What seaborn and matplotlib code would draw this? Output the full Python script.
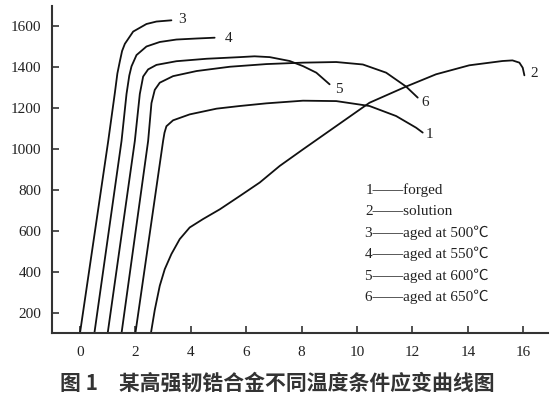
"""
    Stress-strain curves of a zirconium alloy at different conditions.
"""

import seaborn as sns
import pandas as pd
import matplotlib.pyplot as plt

# curve id -> (strain %, stress MPa)
curve_ids = ["1", "2", "3", "4", "5", "6"]
legend_names = ["forged", "solution", "aged at 500℃", "aged at 550℃",
                "aged at 600℃", "aged at 650℃"]

strain_1 = [2.0, 3.0, 3.05, 3.12, 3.36, 3.96, 4.93, 5.77, 6.73, 8.05, 9.25, 10.45, 11.41, 12.13, 12.37]
stress_1 = [100, 1040, 1080, 1112, 1141, 1170, 1198, 1211, 1224, 1237, 1235, 1211, 1162, 1105, 1081]

strain_2 = [2.56, 2.70, 2.88, 3.06, 3.30, 3.60, 3.96, 4.44, 5.05, 5.77, 6.49, 7.21, 8.05, 9.25,
            10.45, 11.77, 12.85, 14.05, 15.25, 15.61, 15.86, 15.98, 16.04]
stress_2 = [100, 214, 332, 413, 487, 560, 617, 658, 706, 771, 837, 918, 999, 1113,
            1227, 1306, 1366, 1410, 1431, 1434, 1423, 1398, 1361]

strain_3 = [0.0, 1.02, 1.26, 1.35, 1.44, 1.52, 1.62, 1.92, 2.40, 2.76, 3.30]
stress_3 = [100, 1040, 1276, 1370, 1430, 1480, 1515, 1575, 1612, 1624, 1630]

strain_4 = [0.52, 1.50, 1.68, 1.78, 1.86, 2.04, 2.40, 2.88, 3.48, 4.20, 4.86]
stress_4 = [100, 1040, 1270, 1360, 1405, 1460, 1502, 1524, 1536, 1541, 1545]

strain_5 = [1.0, 1.98, 2.16, 2.28, 2.46, 2.76, 3.48, 4.57, 5.77, 6.3, 6.85, 7.57, 8.05, 8.53, 9.01]
stress_5 = [100, 1040, 1270, 1355, 1390, 1412, 1430, 1442, 1450, 1454, 1450, 1431, 1406, 1374, 1317]

strain_6 = [1.5, 2.46, 2.58, 2.70, 2.88, 3.36, 4.21, 5.41, 6.73, 8.05, 9.25, 10.21, 11.05, 11.77, 12.19]
stress_6 = [100, 1040, 1225, 1290, 1325, 1357, 1382, 1403, 1416, 1423, 1426, 1414, 1374, 1306, 1252]

x_ticks = [0, 2, 4, 6, 8, 10, 12, 14, 16]
y_ticks = [200, 400, 600, 800, 1000, 1200, 1400, 1600]
caption = "图 1\u3000某高强韧锆合金不同温度条件应变曲线图"

strains = [strain_1, strain_2, strain_3, strain_4, strain_5, strain_6]
stresses = [stress_1, stress_2, stress_3, stress_4, stress_5, stress_6]

frames = []
for cid, xs, ys in zip(curve_ids, strains, stresses):
    frames.append(pd.DataFrame({"curve": cid, "strain": xs, "stress": ys}))
data = pd.concat(frames, ignore_index=True)

sns.set_style("ticks")
plt.rcParams["font.family"] = ["Liberation Serif", "Noto Sans CJK SC", "DejaVu Sans"]

fig = plt.figure(figsize=(5.56, 4.0), dpi=100)
ax = fig.add_axes([0.094, 0.167, 0.892, 0.818])

sns.lineplot(data=data, x="strain", y="stress", units="curve", estimator=None,
             sort=False, color="#111111", linewidth=1.3, ax=ax)

# number next to the end of each curve
for cid, xs, ys in zip(curve_ids, strains, stresses):
    dx, dy = {"1": (0.12, -10), "2": (0.2, 10), "3": (0.25, 5), "4": (0.35, -5),
              "5": (0.2, -25), "6": (0.15, -25)}[cid]
    ax.text(xs[-1] + dx, ys[-1] + dy, cid, fontsize=11, ha="left", va="center",
            color="#222222")

# legend written as text
for i, (cid, name) in enumerate(zip(curve_ids, legend_names)):
    ax.text(10.3, 801 - i * 105, f"{cid}——{name}", fontsize=11, ha="left",
            va="center", color="#222222")

ax.set_xlim(-1, 16.9)
ax.set_ylim(100, 1700)
ax.set_xticks(x_ticks)
ax.set_yticks(y_ticks)
ax.set_xlabel("")
ax.set_ylabel("")
ax.tick_params(axis="both", direction="in", length=5, width=1.2, colors="#333333",
               labelsize=11, labelcolor="#222222")
ax.tick_params(axis="x", pad=9)
ax.tick_params(axis="y", pad=8)
sns.despine(ax=ax)
for side in ["left", "bottom"]:
    ax.spines[side].set_linewidth(1.5)
    ax.spines[side].set_color("#333333")

fig.text(0.108, 0.042, caption, fontsize=15, fontweight="bold", ha="left", va="center",
         family=["Noto Sans CJK SC", "DejaVu Sans"], color="#333333")

fig.savefig("out.png", dpi=100)
plt.close(fig)
